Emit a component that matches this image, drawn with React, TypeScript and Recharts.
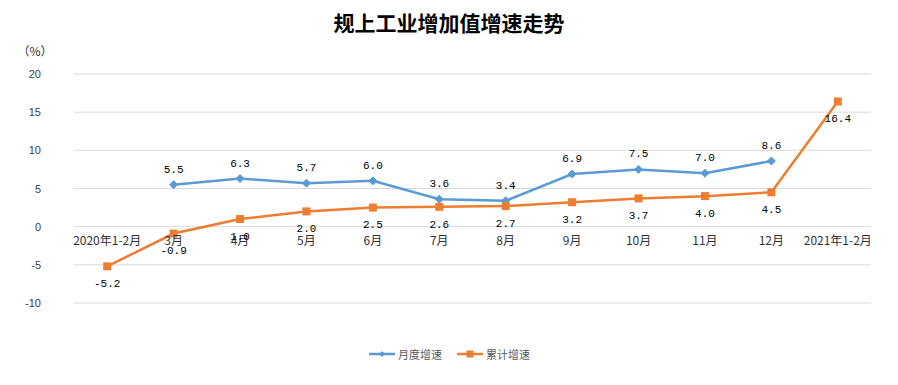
import React from 'react';
import { LineChart, Line, XAxis, YAxis, CartesianGrid, Legend, LabelList } from 'recharts';

const categories = ['2020年1-2月', '3月', '4月', '5月', '6月', '7月', '8月', '9月', '10月', '11月', '12月', '2021年1-2月'];
const monthlyGrowth: (number | null)[] = [null, 5.5, 6.3, 5.7, 6.0, 3.6, 3.4, 6.9, 7.5, 7.0, 8.6, null];
const cumulativeGrowth: number[] = [-5.2, -0.9, 1.0, 2.0, 2.5, 2.6, 2.7, 3.2, 3.7, 4.0, 4.5, 16.4];
const yTicks = [-10, -5, 0, 5, 10, 15, 20];

const seriesNames = { monthly: '月度增速', cumulative: '累计增速' };
const BLUE = '#5B9BD5';
const ORANGE = '#ED7D31';

const W = 898;
const H = 385;
const X_AXIS_H = 20;
const MARGIN = { top: 74, right: 27, bottom: 62, left: 0 };
const PLOT_H = H - MARGIN.top - MARGIN.bottom - X_AXIS_H;
const Y_MIN = yTicks[0];
const Y_MAX = yTicks[yTicks.length - 1];
const ZERO_FROM_BOTTOM = (PLOT_H * (0 - Y_MIN)) / (Y_MAX - Y_MIN);

const data = categories.map((c, i) => ({
  name: c,
  monthly: monthlyGrowth[i],
  cumulative: cumulativeGrowth[i],
}));

const XTick = (props: any) => {
  const { x, y, payload } = props;
  return (
    <text
      x={x}
      y={y - ZERO_FROM_BOTTOM + 18}
      textAnchor="middle"
      fontSize={12}
      fontFamily="'Noto Sans CJK SC', sans-serif"
      fill="#333333"
    >
      {payload.value}
    </text>
  );
};

const YTick = (props: any) => {
  const { x, y, payload } = props;
  return (
    <text x={x} y={y + 4} textAnchor="end" fontSize={11} fontFamily="'Liberation Sans', sans-serif" fill="#404040">
      {payload.value}
    </text>
  );
};

const UnitLabel = (props: any) => {
  const vb = props.viewBox || {};
  const cx = (vb.x || 0) + (vb.width || 0) / 2;
  return (
    <text x={cx - 2} y={(vb.y || 0) - 18} textAnchor="middle" fontSize={12} fontFamily="'Noto Sans CJK SC', sans-serif" fill="#333333">
      （%）
    </text>
  );
};

const Diamond = (props: any) => {
  const { cx, cy, value } = props;
  if (value == null || cx == null || cy == null) return null;
  const r = 4;
  return <path d={`M${cx},${cy - r}L${cx + r},${cy}L${cx},${cy + r}L${cx - r},${cy}Z`} fill={BLUE} stroke={BLUE} strokeWidth={1} />;
};

const Square = (props: any) => {
  const { cx, cy, value } = props;
  if (value == null || cx == null || cy == null) return null;
  const s = 4;
  return <rect x={cx - s} y={cy - s} width={2 * s} height={2 * s} fill={ORANGE} />;
};

const fmt = (v: any) => (v == null ? '' : Number(v).toFixed(1));

const LegendContent = () => {
  const items = [
    { name: seriesNames.monthly, color: BLUE, shape: 'diamond' },
    { name: seriesNames.cumulative, color: ORANGE, shape: 'square' },
  ];
  return (
    <div style={{ display: 'flex', justifyContent: 'center', alignItems: 'center', gap: 14 }}>
      {items.map((it) => (
        <div key={it.name} style={{ display: 'flex', alignItems: 'center' }}>
          <svg width={28} height={10} style={{ marginRight: 2 }}>
            <line x1={1} y1={5} x2={27} y2={5} stroke={it.color} strokeWidth={2.5} />
            {it.shape === 'diamond' ? (
              <path d="M14,2L17,5L14,8L11,5Z" fill={it.color} />
            ) : (
              <rect x={10.5} y={1.5} width={7} height={7} fill={it.color} />
            )}
          </svg>
          <span style={{ fontSize: 11, color: '#595959', fontFamily: "'Noto Sans CJK SC', sans-serif" }}>{it.name}</span>
        </div>
      ))}
    </div>
  );
};

export default function App() {
  return (
    <div style={{ position: 'absolute', left: 0, top: 0, width: W, height: H, background: '#fff' }}>
      <div
        style={{
          position: 'absolute',
          left: 0,
          top: 8,
          width: W,
          textAlign: 'center',
          fontSize: 21,
          fontWeight: 'bold',
          lineHeight: '28px',
          color: '#000',
          fontFamily: "'Noto Sans CJK SC', sans-serif",
        }}
      >
        规上工业增加值增速走势
      </div>
      <LineChart width={W} height={H} data={data} margin={MARGIN}>
        <CartesianGrid horizontal vertical={false} stroke="#D9D9D9" strokeWidth={1} />
        <XAxis
          dataKey="name"
          scale="band"
          height={X_AXIS_H}
          axisLine={false}
          tickLine={false}
          tickSize={0}
          tickMargin={0}
          interval={0}
          tick={<XTick />}
        />
        <YAxis
          width={74}
          domain={[Y_MIN, Y_MAX]}
          ticks={yTicks}
          axisLine={false}
          tickLine={false}
          tickSize={0}
          tickMargin={33}
          tick={<YTick />}
          label={<UnitLabel />}
        />
        <Legend
          verticalAlign="middle"
          align="center"
          content={<LegendContent />}
          wrapperStyle={{ top: 346, left: 0, width: W }}
        />
        <Line
          type="linear"
          dataKey="monthly"
          name={seriesNames.monthly}
          stroke={BLUE}
          strokeWidth={2.5}
          dot={<Diamond />}
          activeDot={false}
          isAnimationActive={false}
        >
          <LabelList
            dataKey="monthly"
            position="top"
            offset={12}
            formatter={fmt}
            style={{ fontSize: 11, fill: '#000', fontFamily: "'Liberation Mono', monospace" }}
          />
        </Line>
        <Line
          type="linear"
          dataKey="cumulative"
          name={seriesNames.cumulative}
          stroke={ORANGE}
          strokeWidth={2.5}
          dot={<Square />}
          activeDot={false}
          isAnimationActive={false}
        >
          <LabelList
            dataKey="cumulative"
            position="bottom"
            offset={13}
            formatter={fmt}
            style={{ fontSize: 11, fill: '#000', fontFamily: "'Liberation Mono', monospace" }}
          />
        </Line>
      </LineChart>
    </div>
  );
}
